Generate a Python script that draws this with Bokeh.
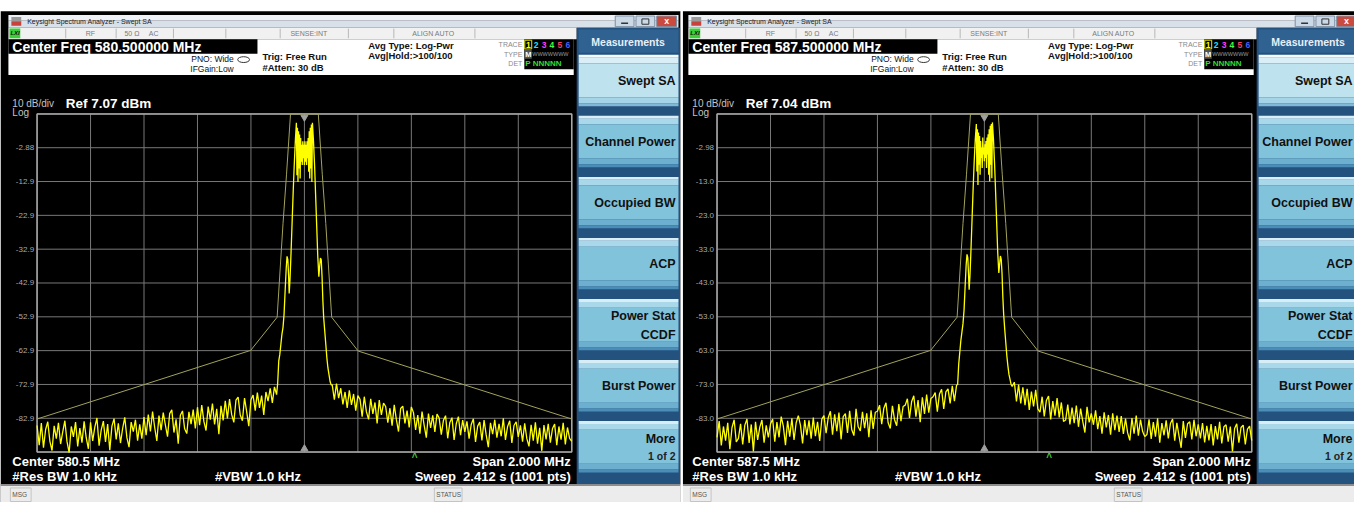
from bokeh.plotting import figure
from bokeh.models import Range1d
from bokeh.core.properties import value
from bokeh.embed import file_html
from bokeh.resources import INLINE

FONT = "Liberation Sans"

# ---------------- chart data ----------------
center_mhz = [580.5, 587.5]
span_mhz = 2.0
top_dbm = [7.12, 7.02]          # level of the top graticule line
db_per_div = 10.0
n_div = 10
ref_text = ["Ref 7.07 dBm", "Ref 7.04 dBm"]
center_freq_text = ["Center Freq 580.500000 MHz", "Center Freq 587.500000 MHz"]
center_text = ["Center 580.5 MHz", "Center 587.5 MHz"]
ytick_labels = [
    ["-2.88", "-12.9", "-22.9", "-32.9", "-42.9", "-52.9", "-62.9", "-72.9", "-82.9"],
    ["-2.98", "-13.0", "-23.0", "-33.0", "-43.0", "-53.0", "-63.0", "-73.0", "-83.0"],
]
marker_offset_mhz = [0.412, 0.242]

# sweep points of the noise floor (kHz offset from centre)
floor_step_khz = 8
left_floor_khz = [-1000 + floor_step_khz * i for i in range(113)]
right_floor_khz = [104 + floor_step_khz * i for i in range(113)]

left_floor_1 = [
    -85.0, -90.8, -84.3, -91.6, -86.2, -83.9, -89.7, -92.4, -85.1, -88.9,
    -84.2, -90.5, -86.9, -83.6, -89.8, -93.0, -85.3, -88.4, -84.0, -91.2,
    -85.8, -90.1, -83.8, -88.7, -91.9,
    -84.1, -89.6, -85.5, -82.8, -91.0, -86.3, -83.7, -89.9, -84.6, -92.3,
    -85.2, -83.0, -89.1, -84.4, -90.2, -85.9, -82.6, -88.6, -91.4, -84.0,
    -86.8, -83.3, -89.5, -84.7, -88.9,
    -82.5, -87.9, -81.8, -86.8, -80.9, -85.6, -89.6, -82.1, -86.4, -81.2,
    -84.9, -88.3, -81.5, -80.4, -87.1, -83.2, -90.4, -82.0, -80.7, -86.0,
    -87.4, -81.0, -84.6, -80.3, -85.9,
    -79.6, -84.9, -79.0, -83.8, -86.5, -79.4, -83.3, -78.5, -84.7, -80.1,
    -87.6, -79.2, -83.5,
    -77.7, -82.9, -77.2, -81.8, -84.1, -77.5, -76.6, -81.9, -83.6, -76.9,
    -80.9, -85.2, -77.4,
    -76.0, -80.6, -75.3, -79.8, -76.2, -81.9, -75.1,
    -77.8, -74.0, -78.3, -73.6, -75.9,
]
right_floor_1 = [
    -73.0, -77.4, -72.6, -76.9, -74.0, -78.8,
    -75.1, -79.8, -74.6, -78.9, -75.7, -80.6, -76.2,
    -77.3, -82.4, -76.5, -81.0, -83.2, -77.1, -81.6, -78.2, -84.4, -77.5, -81.9, -78.4,
    -79.4, -84.2, -79.9, -85.1, -78.9, -83.3, -86.8, -80.0, -79.3, -84.4, -80.6, -85.6, -79.5,
    -81.2, -86.3, -81.9, -87.4, -80.9, -85.0, -88.6, -81.5, -85.7, -82.0, -86.9, -81.6,
    -82.8, -87.7, -83.5, -82.1, -88.8, -84.1, -82.7, -89.3, -84.5, -82.4, -87.9, -83.4, -86.9,
    -83.8, -88.9, -84.7, -83.0, -89.9, -85.2, -84.0, -89.4, -83.4, -87.8,
    -91.4, -84.2, -87.6, -83.3, -88.6, -84.5, -88.2, -82.9, -89.3, -85.3,
    -83.6, -90.2, -85.0, -83.9, -88.4,
    -85.0, -89.8, -84.4, -88.9, -91.2, -84.8, -89.5, -84.1, -90.4, -85.7,
    -92.5, -84.9, -89.1, -84.5, -90.1, -85.9, -84.6, -90.8, -85.3, -89.2,
    -84.2, -90.6, -85.6, -88.8, -89.7,
]
left_floor_2 = [
    -88.6, -83.8, -91.0, -85.4, -89.6, -84.3, -92.1, -85.7, -83.4, -90.0,
    -88.9, -84.6, -90.7, -85.0, -83.2, -90.3, -84.8, -92.8, -84.0, -89.4,
    -85.6, -83.5, -90.2, -85.1, -88.6,
    -84.7, -83.2, -89.9, -84.1, -88.6, -82.5, -85.3, -90.9, -83.7, -88.4,
    -83.0, -89.4, -84.3, -82.2, -85.0, -90.4, -83.5, -88.0, -83.6, -89.0,
    -82.8, -88.3, -84.0, -89.7, -83.2,
    -82.2, -87.4, -82.8, -80.9, -87.8, -81.8, -86.8, -81.3, -89.2, -82.5,
    -81.6, -87.3, -80.8, -86.4, -88.1, -80.2, -85.5, -86.7, -81.1, -85.9,
    -81.5, -88.6, -80.6, -86.1, -81.2,
    -80.9, -79.1, -84.7, -80.0, -78.4, -84.3, -86.0, -79.3, -83.4, -85.2,
    -78.8, -83.8, -79.5,
    -79.1, -77.2, -82.9, -78.0, -76.3, -82.5, -77.6, -84.1, -76.8, -81.7,
    -76.0, -81.3, -77.1,
    -76.6, -75.4, -81.0, -75.8, -74.4, -80.2, -75.2,
    -74.3, -78.6, -73.4, -77.9, -73.2,
]
right_floor_2 = [
    -73.6, -72.3, -78.0, -73.0, -78.6, -73.8,
    -79.1, -74.3, -80.5, -75.1, -79.5, -74.6, -80.2,
    -81.2, -76.6, -82.4, -77.7, -76.4, -83.3, -77.9, -82.2, -77.0, -82.7, -78.3, -83.9,
    -83.5, -78.9, -84.8, -79.8, -84.4, -79.2, -85.5, -80.1, -83.9, -87.2, -79.6, -84.2, -81.5,
    -84.9, -80.6, -86.2, -82.3, -87.5, -81.2, -85.7, -82.0, -87.8, -81.5, -86.5, -82.2,
    -87.0, -82.3, -87.6, -83.1, -87.3, -89.5, -82.9, -87.5, -82.2, -88.1, -83.4, -86.9, -88.4,
    -87.8, -83.3, -89.1, -84.1, -88.4, -83.0, -90.2, -84.4, -88.0, -83.6,
    -88.9, -84.5, -83.2, -89.6, -84.3, -88.2, -91.7, -83.8, -88.8, -84.6,
    -84.0, -89.2, -83.4, -88.3, -84.8,
    -88.9, -84.4, -90.1, -85.2, -89.5, -84.7, -91.0, -85.3, -89.2, -84.0,
    -90.4, -85.5, -84.9, -89.9, -85.4, -92.8, -86.0, -84.6, -90.2, -85.7,
    -85.0, -90.7, -86.2, -85.3, -89.6,
]

# carrier region (kHz offset from centre)
carrier_khz = [-100, -96, -92, -88, -84, -80, -76, -72, -68, -65, -62, -59, -57, -54, -50, -46, -42, -38, -34,
               -30, -28, -26, -24, -22, -20, -18, -16, -14, -12, -10, -8, -6, -4, -2, 0,
               2, 4, 6, 8, 10, 12, 14, 16, 18, 20, 22, 24, 26, 28, 30,
               34, 38, 42, 46, 50, 54, 57, 60, 63, 66, 69, 72, 76, 80, 84, 88, 92, 96, 100]
carrier_1 = [-72.5, -66, -64, -61, -58, -56, -52, -45, -38.5, -35, -36, -41, -46, -42, -34, -25, -16, -8, -1,
             4.5, -11, 3, -13, 2, -9, 1, -12, 0, -7, -2, -8, -1, -6, -2, -8,
             -1, -7, -2, -8, -1, -6, 0, -10, 2, -12, 3, -9, 4, -13, 4.5,
             -1, -8, -17, -26, -35, -41, -38, -35.5, -36, -41, -48, -53, -57, -61, -65, -68, -70, -72, -73]
carrier_2 = [-73, -67, -63.5, -60, -57.5, -55, -51, -44, -37.5, -34.5, -35.5, -41, -45, -41, -33, -24, -15, -7, -0.5,
             4.0, -10, 2.5, -14, 1.5, -8, 0.5, -11, -1, -6, -3, -9, 0, -5, -3, -7,
             -2, -6, -1, -9, 0, -5, 1, -11, 2.5, -13, 3.5, -8, 4, -12, 4.5,
             -0.5, -7.5, -16, -25, -34, -40, -37.5, -35, -36, -40, -47, -52, -56.5, -60.5, -64.5, -67.5, -70, -71.5, -73]

# dim envelope trace
envelope_khz = [-1000, -201, -102, -80, -67, -52, 52, 67, 80, 102, 201, 1000]
envelope_1 = [-83.1, -62.8, -53.0, -25.3, -10.9, 7.1, 7.1, -10.9, -25.3, -53.0, -63.0, -83.1]
envelope_2 = [-83.2, -62.9, -53.1, -25.4, -11.0, 7.0, 7.0, -11.0, -25.4, -53.1, -63.1, -83.2]

left_floors = [left_floor_1, left_floor_2]
right_floors = [right_floor_1, right_floor_2]
carriers = [carrier_1, carrier_2]
envelopes = [envelope_1, envelope_2]

softkeys = [["Swept SA"], ["Channel Power"], ["Occupied BW"], ["ACP"],
            ["Power Stat", "CCDF"], ["Burst Power"], ["More", "1 of 2"]]

# ---------------- layout (pixel coordinates of the screen) ----------------
VIEW_L, VIEW_R, VIEW_T, VIEW_B = 0, 1370, 0, 518
FR_L, FR_R, FR_T, FR_B = 37, 578, 117, 466
offsets = [0, 688]

p = figure(width=1354, height=502,
           x_range=Range1d(VIEW_L, VIEW_R), y_range=Range1d(VIEW_B, VIEW_T),
           x_axis_type=None, y_axis_type=None, toolbar_location=None,
           output_backend="svg", min_border=0, title=None,
           background_fill_color="white", border_fill_color="white",
           outline_line_color=None)

xr, yr = {}, {}
for k in range(2):
    ox = offsets[k]
    mpp = span_mhz / (FR_R - FR_L)
    lo = center_mhz[k] - span_mhz / 2
    hi = center_mhz[k] + span_mhz / 2
    xr[f"f{k}"] = Range1d(lo - (ox + FR_L - VIEW_L) * mpp, hi + (VIEW_R - (ox + FR_R)) * mpp)
    dpp = db_per_div * n_div / (FR_B - FR_T)
    bot = top_dbm[k] - db_per_div * n_div
    yr[f"d{k}"] = Range1d(bot - (VIEW_B - FR_B) * dpp, top_dbm[k] + (FR_T - VIEW_T) * dpp)
p.extra_x_ranges = xr
p.extra_y_ranges = yr


def box(l, r, t, b, color, line=None, lw=1):
    p.quad(left=[l], right=[r], top=[t], bottom=[b], fill_color=color,
           fill_alpha=(0 if color is None else 1), line_color=line, line_width=lw)


def txt(x, y, s, size, color, bold=False, align="left", italic=False):
    style = "normal"
    if bold and italic:
        style = "bold italic"
    elif bold:
        style = "bold"
    elif italic:
        style = "italic"
    p.text(x=[x], y=[y], text=[s], text_font=value(FONT), text_font_size=value(f"{size}px"),
           text_color=color, text_align=align, text_baseline="middle", text_font_style=style)


def panel(k):
    ox = offsets[k]

    def X(x):
        return ox + x

    c = center_mhz[k]
    top = top_dbm[k]
    bot = top - db_per_div * n_div
    fx, dy = f"f{k}", f"d{k}"
    key_right = min(X(683), VIEW_R - 2)

    # window body
    box(X(0), X(688), 11, 518, "black")
    # title bar
    box(X(8), X(686), 15, 21, "#eef2f7")
    box(X(8), X(686), 21, 28, "#d8e0ea")
    box(X(11), X(21), 17, 21.5, "#9a9a9a")
    box(X(11), X(21), 21.5, 26, "#c8413a")
    txt(X(27), 21.5, "Keysight Spectrum Analyzer - Swept SA", 7, "#1c1c1c")
    for l, r, col in [(622, 641, "#cbd8e6"), (643, 662, "#cbd8e6"), (664, 684, "#c94a3e")]:
        box(X(l), X(r), 16, 27, col, line="#7d8ea3")
    p.segment(x0=[X(628)], x1=[X(635)], y0=[23.5], y1=[23.5], line_color="#333", line_width=1.5)
    box(X(649), X(656), 19, 24.5, None, line="#333")
    if X(674) < VIEW_R - 4:
        txt(X(674), 21.5, "x", 9, "white", bold=True, align="center")

    # status row
    box(X(8), X(583), 28, 40, "#f1f1f1")
    box(X(9), X(20), 29, 39, "#39cf36")
    txt(X(10), 34, "LXI", 6, "#111", bold=True, italic=True)
    for dx in [66, 117, 175, 228, 283, 352, 398, 480]:
        p.segment(x0=[X(dx)], x1=[X(dx)], y0=[29], y1=[39], line_color="#b8b8b8", line_width=1)
    for sx, s in [(91, "RF"), (133, "50 Ω"), (155, "AC"), (312, "SENSE:INT"), (438, "ALIGN AUTO")]:
        txt(X(sx), 34.5, s, 7, "#7a7a7a", align="center")

    # header
    box(X(8), X(580), 40, 77, "white")
    box(X(8), X(260), 40, 55, "black")
    txt(X(12), 47.5, center_freq_text[k], 14, "white", bold=True)
    txt(X(236), 60, "PNO: Wide", 8.5, "#111", align="right")
    txt(X(236), 70.5, "IFGain:Low", 8.5, "#111", align="right")
    p.ellipse(x=[X(246)], y=[61], width=[12], height=[6], fill_color=None, line_color="#333", line_width=1)
    txt(X(265), 57.5, "Trig: Free Run", 9.5, "#111", bold=True)
    txt(X(265), 69.5, "#Atten: 30 dB", 9.5, "#111", bold=True)
    txt(X(372), 46, "Avg Type: Log-Pwr", 9.5, "#111", bold=True)
    txt(X(372), 57, "Avg|Hold:>100/100", 9.5, "#111", bold=True)
    txt(X(528), 45.5, "TRACE", 7, "#8a8a8a", align="right")
    txt(X(528), 55.5, "TYPE", 7, "#8a8a8a", align="right")
    txt(X(528), 65.5, "DET", 7, "#8a8a8a", align="right")
    box(X(530), X(580), 40, 71, "black")
    box(X(530.5), X(537.5), 41, 50, None, line="#e6e600")
    for i, col in enumerate(["#ffff00", "#22e0ff", "#ff40ff", "#40ff40", "#ff4060", "#4060ff"]):
        txt(X(534 + 8 * i), 45.5, str(i + 1), 8.5, col, bold=True, align="center")
    box(X(530.5), X(537.5), 51, 60, "#555555")
    txt(X(534), 55.5, "M", 7.5, "white", bold=True, align="center")
    txt(X(538), 55.5, "WWWWWWW", 5.5, "#9a9a9a")
    txt(X(531), 65.5, "P NNNNN", 8, "#33dd33", bold=True)

    # softkey column
    box(X(583), X(688), 28, 500, "#24527f")
    box(X(585), X(686), 30, 54, "#2f6191")
    txt(X(635), 42.5, "Measurements", 10.5, "#e8f0f8", bold=True, align="center")
    for j, lines in enumerate(softkeys):
        t = 56 + 63 * j
        if j == 0:
            cols = ["#f2fafd", "#d9eef6", "#bfe2ef", "#a4d4e7", "#7fb9d6"]
        else:
            cols = ["#d8eef6", "#a8d8ea", "#82c3dc", "#6dafcf", "#4a8db6"]
        box(X(585), X(686), t, t + 3, cols[0])
        box(X(585), X(686), t + 3, t + 9, cols[1])
        box(X(585), X(686), t + 9, t + 44, cols[2])
        box(X(585), X(686), t + 44, t + 50, cols[3])
        box(X(585), X(686), t + 50, t + 53, cols[4])
        if len(lines) == 1:
            txt(key_right, t + 27, lines[0], 12.5, "#111", bold=True, align="right")
        elif j == 4:
            txt(key_right, t + 18, lines[0], 12.5, "#111", bold=True, align="right")
            txt(key_right, t + 37, lines[1], 12.5, "#111", bold=True, align="right")
        else:
            txt(key_right, t + 18, lines[0], 12.5, "#111", bold=True, align="right")
            txt(key_right, t + 36, lines[1], 10.5, "#222", bold=True, align="right")

    # scale annotation
    txt(X(12), 106.5, "10 dB/div", 10, "#c4c4c4")
    txt(X(12), 115.5, "Log", 10, "#c4c4c4")
    txt(X(66), 106, ref_text[k], 13.5, "white", bold=True)

    # graticule
    vx = [c - span_mhz / 2 + span_mhz * i / n_div for i in range(n_div + 1)]
    p.segment(x0=vx, x1=vx, y0=[bot] * len(vx), y1=[top] * len(vx),
              x_range_name=fx, y_range_name=dy, line_color="#787878", line_width=1)
    hy = [top - db_per_div * i for i in range(n_div + 1)]
    p.segment(x0=[c - span_mhz / 2] * len(hy), x1=[c + span_mhz / 2] * len(hy), y0=hy, y1=hy,
              x_range_name=fx, y_range_name=dy, line_color="#787878", line_width=1)
    p.quad(left=[c - span_mhz / 2], right=[c + span_mhz / 2], top=[top], bottom=[bot],
           fill_alpha=0, line_color="#a8a8a8", line_width=1.5, x_range_name=fx, y_range_name=dy)
    tick_y = [top - db_per_div * (i + 1) for i in range(9)]
    p.text(x=[X(34)] * 9, y=tick_y, text=ytick_labels[k], y_range_name=dy,
           text_font=value(FONT), text_font_size=value("8px"), text_color="#a9a9a9",
           text_align="right", text_baseline="middle")

    # traces
    p.line([c + f / 1000 for f in envelope_khz], envelopes[k], x_range_name=fx, y_range_name=dy,
           line_color="#a3a35a", line_width=1)
    tr_khz = left_floor_khz + carrier_khz + right_floor_khz
    tr_db = left_floors[k] + carriers[k] + right_floors[k]
    p.line([c + f / 1000 for f in tr_khz], tr_db, x_range_name=fx, y_range_name=dy,
           line_color="#ffff00", line_width=1.3)

    # centre markers
    p.scatter(x=[c], y=[top - 1.0], marker="inverted_triangle", size=7, color="#a0a0a0",
              x_range_name=fx, y_range_name=dy)
    p.scatter(x=[c], y=[bot + 1.0], marker="triangle", size=7, color="#a0a0a0",
              x_range_name=fx, y_range_name=dy)
    p.text(x=[c + marker_offset_mhz[k]], y=[472], text=["^"], x_range_name=fx,
           text_font=value(FONT), text_font_size=value("10px"), text_color="#3ccf3c",
           text_align="center", text_baseline="middle", text_font_style="bold")

    # footer
    txt(X(12), 476, center_text[k], 13, "white", bold=True)
    txt(X(12), 491, "#Res BW 1.0 kHz", 13, "white", bold=True)
    txt(X(217), 491, "#VBW 1.0 kHz", 13, "white", bold=True)
    txt(X(577), 476, "Span 2.000 MHz", 13, "white", bold=True, align="right")
    txt(X(577), 491, "Sweep\u00a0 2.412 s (1001 pts)", 13, "white", bold=True, align="right")

    # message bar
    box(X(0), X(688), 500, 518, "#ececec")
    p.segment(x0=[X(0)], x1=[X(688)], y0=[500], y1=[500], line_color="#8c8c8c", line_width=2)
    box(X(10), X(31), 503, 517, None, line="#c4c4c4")
    txt(X(12), 510, "MSG", 6.5, "#555")
    box(X(439), X(467), 503, 517, None, line="#c4c4c4")
    txt(X(441), 510, "STATUS", 6.5, "#555")


panel(0)
panel(1)
box(688, 690.5, 0, 518, "white")

open("out.html", "w").write(file_html(p, INLINE))
